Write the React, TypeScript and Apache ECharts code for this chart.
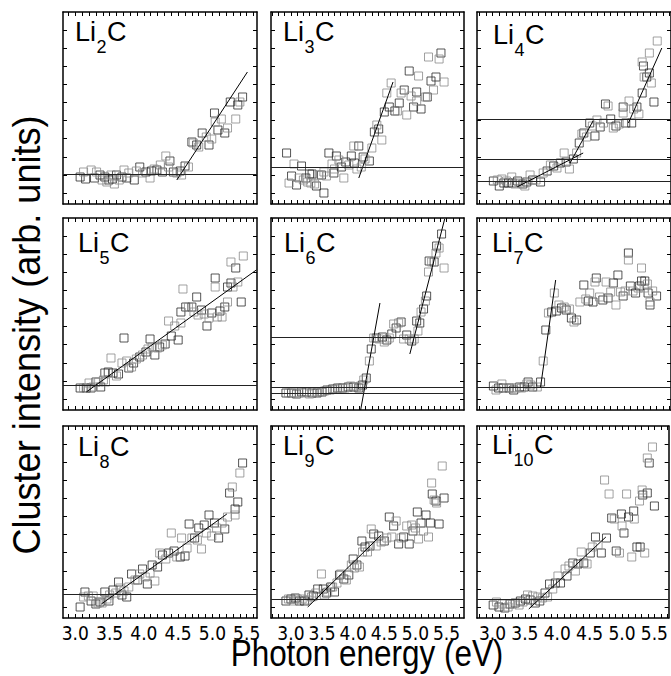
import React, { useEffect, useRef } from "react";
import * as echarts from "echarts";

const NARROW = "'Liberation Sans Narrow', 'DejaVu Sans Condensed', 'Liberation Sans', Arial, sans-serif";
const REGULAR = "'Liberation Sans', Arial, Helvetica, sans-serif";

// ---- data (photon energy eV, intensity arb. units) ----
const LI2C = [[3.07,27],[3.12,32],[3.15,25],[3.23,34],[3.28,26],[3.31,32],[3.36,29],[3.39,24],[3.43,27],[3.46,22],[3.49,24],[3.52,29],[3.54,25],[3.57,20],[3.60,29],[3.64,24],[3.68,27],[3.71,34],[3.75,26],[3.78,31],[3.86,24],[3.89,33],[3.94,37],[3.98,31],[4.03,32],[4.09,26],[4.11,33],[4.15,35],[4.19,34],[4.24,39],[4.27,32],[4.32,48],[4.38,43],[4.36,37],[4.43,32],[4.48,31],[4.53,33],[4.55,29],[4.60,38],[4.65,37],[4.70,62],[4.72,61],[4.77,59],[4.80,57],[4.85,71],[4.91,67],[4.95,59],[4.99,65],[5.03,91],[5.04,82],[5.08,74],[5.13,85],[5.18,71],[5.22,76],[5.26,102],[5.34,85],[5.37,99],[5.40,102],[5.44,107]];
const LI2C_FITS = [[[4.48,24],[5.51,132]]];
const LI2C_LEVELS = [30];

const LI3C = [[2.93,51],[2.97,21],[3.01,28],[3.05,40],[3.09,19],[3.13,26],[3.17,38],[3.20,24],[3.24,26],[3.27,22],[3.30,30],[3.32,21],[3.34,30],[3.38,20],[3.41,18],[3.45,29],[3.49,29],[3.53,32],[3.53,11],[3.57,28],[3.61,51],[3.66,40],[3.69,31],[3.70,35],[3.73,48],[3.77,44],[3.81,37],[3.85,26],[3.88,42],[3.93,39],[3.97,48],[4.01,58],[4.02,41],[4.06,35],[4.09,58],[4.13,37],[4.16,47],[4.19,45],[4.26,43],[4.30,56],[4.34,72],[4.38,79],[4.41,75],[4.46,64],[4.50,92],[4.54,111],[4.58,97],[4.61,121],[4.67,93],[4.71,93],[4.74,101],[4.77,111],[4.82,114],[4.86,89],[4.90,133],[4.93,108],[4.97,97],[5.02,103],[5.02,112],[5.05,128],[5.09,95],[5.16,107],[5.19,107],[5.21,147],[5.25,123],[5.29,114],[5.33,127],[5.38,145],[5.41,151],[5.46,122]];
const LI3C_FITS = [[[4.09,26],[4.64,122]]];
const LI3C_LEVELS = [37];

const LI4C = [[3.01,23],[3.07,24],[3.10,18],[3.14,25],[3.17,21],[3.21,23],[3.24,21],[3.29,27],[3.30,21],[3.34,20],[3.38,23],[3.42,21],[3.46,20],[3.49,18],[3.52,22],[3.57,29],[3.61,24],[3.66,24],[3.73,22],[3.77,31],[3.83,33],[3.88,39],[3.93,38],[3.98,36],[4.03,41],[4.09,51],[4.12,42],[4.17,35],[4.23,45],[4.28,51],[4.32,61],[4.36,70],[4.39,71],[4.43,67],[4.48,81],[4.52,78],[4.56,68],[4.59,84],[4.64,77],[4.69,81],[4.72,100],[4.76,98],[4.80,85],[4.84,76],[4.88,78],[4.93,80],[4.99,97],[4.99,91],[5.03,81],[5.08,103],[5.12,81],[5.15,95],[5.20,97],[5.23,90],[5.28,111],[5.28,142],[5.30,138],[5.31,127],[5.35,127],[5.39,151],[5.39,131],[5.42,121],[5.46,102],[5.51,163]];
const LI4C_FITS = [[[3.37,17],[4.38,51]],[[4.18,41],[4.53,83]],[[5.07,81],[5.58,156]]];
const LI4C_LEVELS = [85,45,23];

const LI5C = [[3.07,22],[3.12,22],[3.16,22],[3.20,27],[3.23,22],[3.26,23],[3.30,28],[3.34,28],[3.37,23],[3.41,30],[3.43,37],[3.44,28],[3.48,38],[3.52,52],[3.55,37],[3.60,34],[3.63,36],[3.68,47],[3.71,72],[3.75,49],[3.78,42],[3.82,43],[3.85,47],[3.89,51],[3.94,53],[3.98,55],[4.03,58],[4.06,61],[4.09,71],[4.12,63],[4.16,55],[4.20,62],[4.23,63],[4.27,65],[4.31,66],[4.36,89],[4.40,74],[4.45,84],[4.50,70],[4.54,87],[4.54,98],[4.57,121],[4.61,103],[4.65,103],[4.70,103],[4.73,98],[4.77,113],[4.79,95],[4.84,100],[4.88,96],[4.92,84],[4.95,92],[4.99,97],[5.04,123],[5.04,132],[5.07,93],[5.11,99],[5.14,93],[5.18,103],[5.22,108],[5.22,123],[5.27,148],[5.27,127],[5.30,123],[5.34,142],[5.37,128],[5.42,108],[5.45,154]];
const LI5C_FITS = [[[3.16,18],[5.64,140]]];
const LI5C_LEVELS = [25];

const LI6C = [[2.92,17],[2.96,17],[3.01,17],[3.05,17],[3.09,16],[3.13,17],[3.17,18],[3.21,17],[3.25,18],[3.30,16],[3.34,17],[3.38,18],[3.42,17],[3.46,18],[3.50,18],[3.54,19],[3.58,20],[3.63,20],[3.67,21],[3.71,21],[3.75,22],[3.79,22],[3.83,22],[3.87,22],[3.92,23],[3.96,24],[4.01,23],[4.05,23],[4.09,22],[4.12,24],[4.15,25],[4.17,30],[4.21,32],[4.26,49],[4.29,61],[4.33,72],[4.37,72],[4.42,71],[4.47,73],[4.50,68],[4.54,70],[4.58,72],[4.62,76],[4.65,86],[4.69,82],[4.73,87],[4.77,88],[4.81,71],[4.86,75],[4.90,71],[4.94,69],[4.98,71],[5.02,89],[5.04,79],[5.07,87],[5.09,98],[5.13,101],[5.16,109],[5.18,114],[5.21,138],[5.22,149],[5.26,148],[5.30,148],[5.33,157],[5.34,164],[5.38,162],[5.42,176],[5.46,142]];
const LI6C_FITS = [[[4.12,0],[4.43,107]],[[4.91,56],[5.47,191]]];
const LI6C_LEVELS = [73,23,17];

const LI7C = [[3.01,24],[3.05,20],[3.09,22],[3.14,26],[3.16,22],[3.21,22],[3.25,22],[3.29,22],[3.32,20],[3.36,22],[3.41,23],[3.44,22],[3.48,23],[3.52,26],[3.54,28],[3.58,25],[3.61,23],[3.68,23],[3.73,28],[3.77,49],[3.81,80],[3.85,97],[3.90,98],[3.94,117],[3.97,99],[4.01,105],[4.05,102],[4.09,103],[4.12,100],[4.17,101],[4.20,92],[4.24,88],[4.28,90],[4.33,108],[4.39,125],[4.42,111],[4.46,109],[4.48,117],[4.53,108],[4.56,128],[4.58,132],[4.63,113],[4.68,110],[4.73,128],[4.76,112],[4.80,118],[4.84,127],[4.88,105],[4.91,135],[4.95,118],[4.99,114],[5.02,119],[5.07,157],[5.07,150],[5.10,124],[5.14,119],[5.18,117],[5.22,122],[5.24,124],[5.27,142],[5.27,129],[5.31,122],[5.32,129],[5.36,126],[5.37,117],[5.40,108],[5.40,105],[5.44,119],[5.50,114]];
const LI7C_FITS = [[[3.73,23],[3.96,130]]];
const LI7C_LEVELS = [23];

const LI8C = [[3.07,11],[3.12,21],[3.14,26],[3.19,22],[3.23,17],[3.26,22],[3.30,14],[3.33,15],[3.36,16],[3.39,15],[3.43,26],[3.46,19],[3.49,17],[3.50,23],[3.55,28],[3.59,25],[3.63,36],[3.65,30],[3.68,23],[3.71,27],[3.75,21],[3.78,31],[3.82,44],[3.87,38],[3.91,38],[3.94,44],[3.98,49],[4.02,41],[4.05,34],[4.09,45],[4.12,53],[4.16,37],[4.20,51],[4.23,65],[4.27,63],[4.32,59],[4.36,65],[4.40,85],[4.44,67],[4.48,61],[4.53,61],[4.55,80],[4.60,62],[4.63,70],[4.66,94],[4.70,80],[4.74,80],[4.78,78],[4.80,90],[4.84,69],[4.88,93],[4.91,85],[4.95,103],[4.99,82],[5.03,95],[5.06,90],[5.09,80],[5.14,95],[5.18,89],[5.22,101],[5.25,125],[5.29,131],[5.33,109],[5.33,103],[5.37,116],[5.40,145],[5.44,155]];
const LI8C_FITS = [[[3.38,14],[5.21,104]]];
const LI8C_LEVELS = [24];

const LI9C = [[2.92,17],[2.96,19],[3.00,19],[3.04,17],[3.07,20],[3.10,19],[3.14,17],[3.18,19],[3.22,17],[3.26,18],[3.29,23],[3.33,21],[3.36,22],[3.40,25],[3.43,29],[3.49,44],[3.52,29],[3.54,23],[3.57,25],[3.59,26],[3.64,31],[3.67,31],[3.70,26],[3.74,35],[3.78,43],[3.80,44],[3.85,39],[3.89,38],[3.93,43],[3.97,53],[4.00,59],[4.02,50],[4.06,53],[4.10,51],[4.14,77],[4.15,66],[4.19,71],[4.23,66],[4.27,72],[4.29,89],[4.33,84],[4.37,72],[4.41,82],[4.45,76],[4.50,77],[4.54,80],[4.58,101],[4.62,81],[4.65,92],[4.69,97],[4.73,74],[4.77,80],[4.81,81],[4.86,92],[4.90,74],[4.94,93],[4.96,87],[5.00,90],[5.03,106],[5.05,79],[5.09,95],[5.13,87],[5.17,103],[5.21,81],[5.24,95],[5.26,135],[5.27,124],[5.30,118],[5.33,117],[5.34,115],[5.38,94],[5.43,152],[5.46,120]];
const LI9C_FITS = [[[3.27,11],[4.45,83]]];
const LI9C_LEVELS = [19];

const LI10C = [[3.01,13],[3.06,16],[3.10,11],[3.15,14],[3.19,10],[3.24,11],[3.27,14],[3.31,14],[3.35,15],[3.41,13],[3.43,17],[3.47,16],[3.51,19],[3.54,23],[3.58,18],[3.62,22],[3.66,15],[3.70,21],[3.73,17],[3.77,20],[3.81,25],[3.85,21],[3.88,34],[3.93,29],[3.97,35],[4.01,42],[4.05,35],[4.12,49],[4.15,42],[4.18,52],[4.24,55],[4.28,47],[4.32,54],[4.37,66],[4.41,55],[4.46,54],[4.51,65],[4.54,71],[4.59,81],[4.63,73],[4.68,65],[4.73,138],[4.76,80],[4.80,124],[4.84,100],[4.88,99],[4.91,67],[4.96,65],[4.99,104],[5.00,92],[5.03,85],[5.07,124],[5.10,101],[5.15,61],[5.18,107],[5.19,99],[5.23,71],[5.27,117],[5.28,71],[5.31,128],[5.32,123],[5.35,65],[5.39,125],[5.39,160],[5.42,155],[5.47,171],[5.50,112]];
const LI10C_FITS = [[[3.56,9],[4.75,81]]];
const LI10C_LEVELS = [19];

const SUBSCRIPTS = ["2", "3", "4", "5", "6", "7", "8", "9", "10"];
const X_TICK_LABELS = [3.0, 3.5, 4.0, 4.5, 5.0, 5.5];
const Y_TICKS = [11, 29, 47, 66, 84, 102, 120, 138, 156, 174];
const Y_MAX = 192;
const X_RANGES = [[2.82, 5.65], [2.68, 5.78], [2.76, 5.72]];

// ---- layout ----
const COL_LEFT = [63, 271, 477];
const COL_WIDTH = [194, 193, 194];
const ROW_TOP = [12, 218, 426];
const PANEL_H = 192;
const LABEL_POS = [[75, 26.7], [283, 27], [493, 30], [78, 238], [284, 238], [492, 238], [78, 442], [283, 441], [492, 440]];

const PANELS = [
  { data: LI2C, fits: LI2C_FITS, levels: LI2C_LEVELS },
  { data: LI3C, fits: LI3C_FITS, levels: LI3C_LEVELS },
  { data: LI4C, fits: LI4C_FITS, levels: LI4C_LEVELS },
  { data: LI5C, fits: LI5C_FITS, levels: LI5C_LEVELS },
  { data: LI6C, fits: LI6C_FITS, levels: LI6C_LEVELS },
  { data: LI7C, fits: LI7C_FITS, levels: LI7C_LEVELS },
  { data: LI8C, fits: LI8C_FITS, levels: LI8C_LEVELS },
  { data: LI9C, fits: LI9C_FITS, levels: LI9C_LEVELS },
  { data: LI10C, fits: LI10C_FITS, levels: LI10C_LEVELS },
];

function tenthTicks(min: number, max: number) {
  const out: number[] = [];
  for (let k = Math.ceil(min * 10 - 1e-6); k <= Math.floor(max * 10 + 1e-6); k++) out.push(k / 10);
  return out;
}

export default function App() {
  const ref = useRef<HTMLDivElement>(null);
  useEffect(() => {
    const chart = echarts.init(ref.current!, null, { renderer: "svg" });
    const grid: any[] = [];
    const xAxis: any[] = [];
    const yAxis: any[] = [];
    const series: any[] = [];
    const graphic: any[] = [];

    PANELS.forEach((p, i) => {
      const col = i % 3;
      const row = Math.floor(i / 3);
      grid.push({ left: COL_LEFT[col], top: ROW_TOP[row], width: COL_WIDTH[col], height: PANEL_H });
      const [xmin, xmax] = X_RANGES[col];
      const axisLine = { show: true, onZero: false, lineStyle: { color: "#000", width: 1.5 } };
      const xTick = { show: true, inside: true, length: 4, lineStyle: { color: "#000", width: 1 }, customValues: tenthTicks(xmin, xmax) };
      const yTick = { show: true, inside: true, length: 4, lineStyle: { color: "#000", width: 1 }, customValues: Y_TICKS };
      const base = { type: "value", gridIndex: i, splitLine: { show: false } };
      xAxis.push({
        ...base, position: "bottom", min: xmin, max: xmax, axisLine, axisTick: xTick,
        axisLabel: row === 2
          ? { show: true, customValues: X_TICK_LABELS, formatter: (v: number) => v.toFixed(1), fontSize: 19, color: "#000", fontFamily: NARROW, margin: 5 }
          : { show: false },
      });
      xAxis.push({ ...base, position: "top", min: xmin, max: xmax, axisLine, axisTick: xTick, axisLabel: { show: false } });
      yAxis.push({ ...base, position: "left", min: 0, max: Y_MAX, axisLine, axisTick: yTick, axisLabel: { show: false } });
      yAxis.push({ ...base, position: "right", min: 0, max: Y_MAX, axisLine, axisTick: yTick, axisLabel: { show: false } });

      const common = { type: "scatter", xAxisIndex: 2 * i, yAxisIndex: 2 * i, symbol: "rect", symbolSize: 8, silent: true };
      series.push({
        ...common,
        data: p.data.filter((_, k) => k % 2 === 0),
        itemStyle: { color: "rgba(0,0,0,0)", borderColor: "#2a2a2a", borderWidth: 1 },
        markLine: {
          silent: true, symbol: ["none", "none"], label: { show: false },
          lineStyle: { color: "#222", width: 1, type: "solid" },
          data: p.levels.map((v) => ({ yAxis: v })),
        },
      });
      series.push({
        ...common,
        data: p.data.filter((_, k) => k % 2 === 1),
        itemStyle: { color: "rgba(0,0,0,0)", borderColor: "#8a8a8a", borderWidth: 1 },
      });
      p.fits.forEach((f) => {
        series.push({
          type: "line", xAxisIndex: 2 * i, yAxisIndex: 2 * i, data: f, symbol: "none", silent: true,
          lineStyle: { color: "#000", width: 1 },
        });
      });

      const [lx, capTop] = LABEL_POS[i];
      const y0 = capTop - 8.5;
      const sub = SUBSCRIPTS[i];
      const subX = lx + 21.5;
      const cX = subX + 10 * sub.length + 0.5;
      graphic.push({ type: "text", x: lx, y: y0, style: { text: "Li", fontSize: 27, fontFamily: REGULAR, fill: "#000", verticalAlign: "top" } });
      graphic.push({ type: "text", x: subX, y: y0 + 19.3, style: { text: sub, fontSize: 18, fontFamily: REGULAR, fill: "#000", verticalAlign: "top" } });
      graphic.push({ type: "text", x: cX, y: y0, style: { text: "C", fontSize: 27, fontFamily: REGULAR, fill: "#000", verticalAlign: "top" } });
    });

    graphic.push({
      type: "text", x: 27, y: 335, rotation: Math.PI / 2, scaleX: 0.95,
      style: { text: "Cluster intensity (arb. units)", fontSize: 38, fontFamily: REGULAR, fill: "#000", align: "center", verticalAlign: "middle" },
    });
    graphic.push({
      type: "text", x: 367, y: 635, scaleX: 0.85,
      style: { text: "Photon energy (eV)", fontSize: 37, fontFamily: REGULAR, fill: "#000", align: "center", verticalAlign: "top" },
    });

    chart.setOption({ animation: false, backgroundColor: "#fff", grid, xAxis, yAxis, series, graphic });
    return () => chart.dispose();
  }, []);
  return <div ref={ref} style={{ position: "absolute", left: 0, top: 0, width: 671, height: 676 }} />;
}
